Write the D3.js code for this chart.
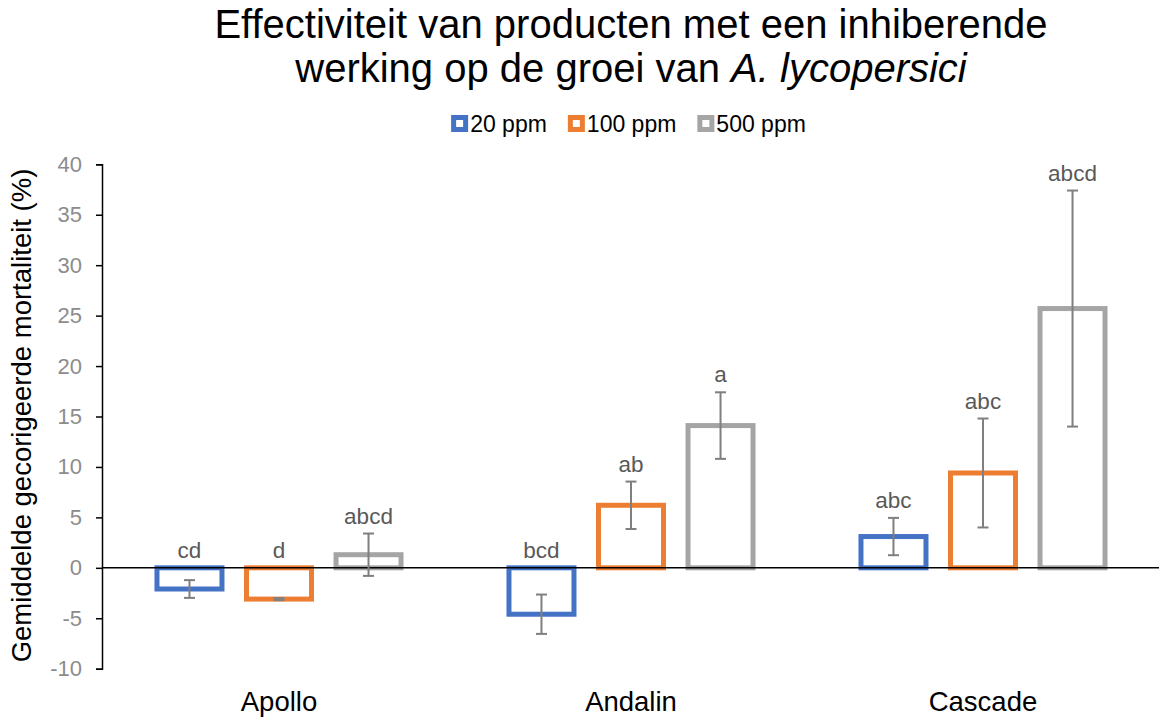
<!DOCTYPE html>
<html>
<head>
<meta charset="utf-8">
<script src="https://cdn.jsdelivr.net/npm/d3@7"></script>
<style>
  body { margin: 0; background: #fff; }
  text { font-family: "Liberation Sans", Arial, sans-serif; }
</style>
</head>
<body>
<script>
// data
const products = ['Apollo', 'Andalin', 'Cascade'];
const doses = ['20 ppm', '100 ppm', '500 ppm'];
const colors = ['#4472C4', '#ED7D31', '#A5A5A5'];
const values20 = [-2.1, -4.6, 3.1];
const values100 = [-3.1, 6.2, 9.4];
const values500 = [1.3, 14.1, 25.7];
const err20 = [0.88, 1.95, 1.85];
const err100 = [0.1, 2.35, 5.4];
const err500 = [2.1, 3.3, 11.7];
const letters20 = ['cd', 'bcd', 'abc'];
const letters100 = ['d', 'ab', 'abc'];
const letters500 = ['abcd', 'a', 'abcd'];
const yTicks = [-10, -5, 0, 5, 10, 15, 20, 25, 30, 35, 40];

const W = 1159, H = 717;
const margin = {top: 164, bottom: 48, left: 102, right: 0};

const svg = d3.select('body').append('svg')
  .attr('width', W)
  .attr('height', H);

// build the rows out of the arrays
const series = [values20, values100, values500];
const errs = [err20, err100, err500];
const letters = [letters20, letters100, letters500];
const rows = [];
products.forEach((p, i) => {
  doses.forEach((d, j) => {
    rows.push({product: p, dose: d, value: series[j][i], err: errs[j][i], letter: letters[j][i], color: colors[j]});
  });
});

// scales
const x0 = d3.scaleBand().domain(products).range([103, W]);
const x1 = d3.scaleBand().domain(doses).range([0, x0.bandwidth()])
  .paddingInner(0.274).paddingOuter(0.603);
const y = d3.scaleLinear().domain([-10, 40]).range([H - margin.bottom - 0.3, margin.top + 0.3]);

// title
const title = svg.append('text')
  .attr('text-anchor', 'middle')
  .attr('font-size', 40)
  .attr('fill', '#000');
title.append('tspan').attr('x', 631).attr('y', 38)
  .text('Effectiviteit van producten met een inhiberende');
const t2 = title.append('tspan').attr('x', 631).attr('y', 82);
t2.append('tspan').text('werking op de groei van ');
t2.append('tspan').attr('font-style', 'italic').text('A. lycopersici');

// legend
const legend = svg.append('g');
let lx = 0;
doses.forEach((d, j) => {
  const item = legend.append('g').attr('transform', `translate(${lx},0)`);
  item.append('rect')
    .attr('x', 2.5).attr('y', -6.5)
    .attr('width', 12).attr('height', 12)
    .attr('fill', '#fff')
    .attr('stroke', colors[j])
    .attr('stroke-width', 5);
  const t = item.append('text')
    .attr('x', 19).attr('y', 8)
    .attr('font-size', 23)
    .attr('fill', '#000')
    .text(d);
  lx += 19 + t.node().getComputedTextLength() + 21;
});
lx -= 21;
legend.attr('transform', `translate(${631 - lx / 2 - 2.5},124)`);

// y axis
const yaxis = d3.axisLeft(y).tickValues(yTicks).tickFormat(d => String(d)).tickSize(6).tickPadding(14);
const gy = svg.append('g')
  .attr('transform', `translate(${margin.left},0)`)
  .call(yaxis);
gy.select('.domain').attr('stroke', '#000').attr('stroke-width', 1.5);
gy.selectAll('.tick line').attr('stroke', '#000').attr('stroke-width', 1.5);
gy.selectAll('.tick text')
  .attr('font-size', 22)
  .attr('fill', '#8c8c8c')
  .attr('font-family', '"Liberation Sans", Arial, sans-serif');

// y axis title
svg.append('text')
  .attr('transform', `translate(31,${y(15) - 1}) rotate(-90)`)
  .attr('text-anchor', 'middle')
  .attr('font-size', 27.5)
  .attr('fill', '#000')
  .text('Gemiddelde gecorigeerde mortaliteit (%)');

// category labels
svg.append('g').selectAll('text')
  .data(products)
  .join('text')
  .attr('x', d => x0(d) + x0.bandwidth() / 2)
  .attr('y', 711)
  .attr('text-anchor', 'middle')
  .attr('font-size', 27.5)
  .attr('fill', '#000')
  .text(d => d);

// bars, outlined only
const bw = x1.bandwidth();
svg.append('g').selectAll('rect')
  .data(rows)
  .join('rect')
  .attr('x', d => x0(d.product) + x1(d.dose))
  .attr('y', d => y(Math.max(0, d.value)))
  .attr('width', bw)
  .attr('height', d => Math.abs(y(d.value) - y(0)))
  .attr('fill', '#fff')
  .attr('stroke', d => d.color)
  .attr('stroke-width', 5);

// zero line
svg.append('line')
  .attr('x1', margin.left).attr('x2', W)
  .attr('y1', y(0)).attr('y2', y(0))
  .attr('stroke', '#000')
  .attr('stroke-width', 1.5);

// error bars
const cx = d => x0(d.product) + x1(d.dose) + bw / 2;
const eb = svg.append('g').attr('stroke', '#7f7f7f').attr('stroke-width', 2);
eb.selectAll('.stem').data(rows).join('line').attr('class', 'stem')
  .attr('x1', cx).attr('x2', cx)
  .attr('y1', d => y(d.value + d.err)).attr('y2', d => y(d.value - d.err));
eb.selectAll('.capTop').data(rows).join('line').attr('class', 'capTop')
  .attr('x1', d => cx(d) - 5.5).attr('x2', d => cx(d) + 5.5)
  .attr('y1', d => y(d.value + d.err)).attr('y2', d => y(d.value + d.err));
eb.selectAll('.capBot').data(rows).join('line').attr('class', 'capBot')
  .attr('x1', d => cx(d) - 5.5).attr('x2', d => cx(d) + 5.5)
  .attr('y1', d => y(d.value - d.err)).attr('y2', d => y(d.value - d.err));

// significance letters
svg.append('g').selectAll('text')
  .data(rows)
  .join('text')
  .attr('x', cx)
  .attr('y', d => y(Math.max(0, d.value + d.err)) - 10)
  .attr('text-anchor', 'middle')
  .attr('font-size', 22.5)
  .attr('fill', '#595959')
  .text(d => d.letter);
</script>
</body>
</html>
